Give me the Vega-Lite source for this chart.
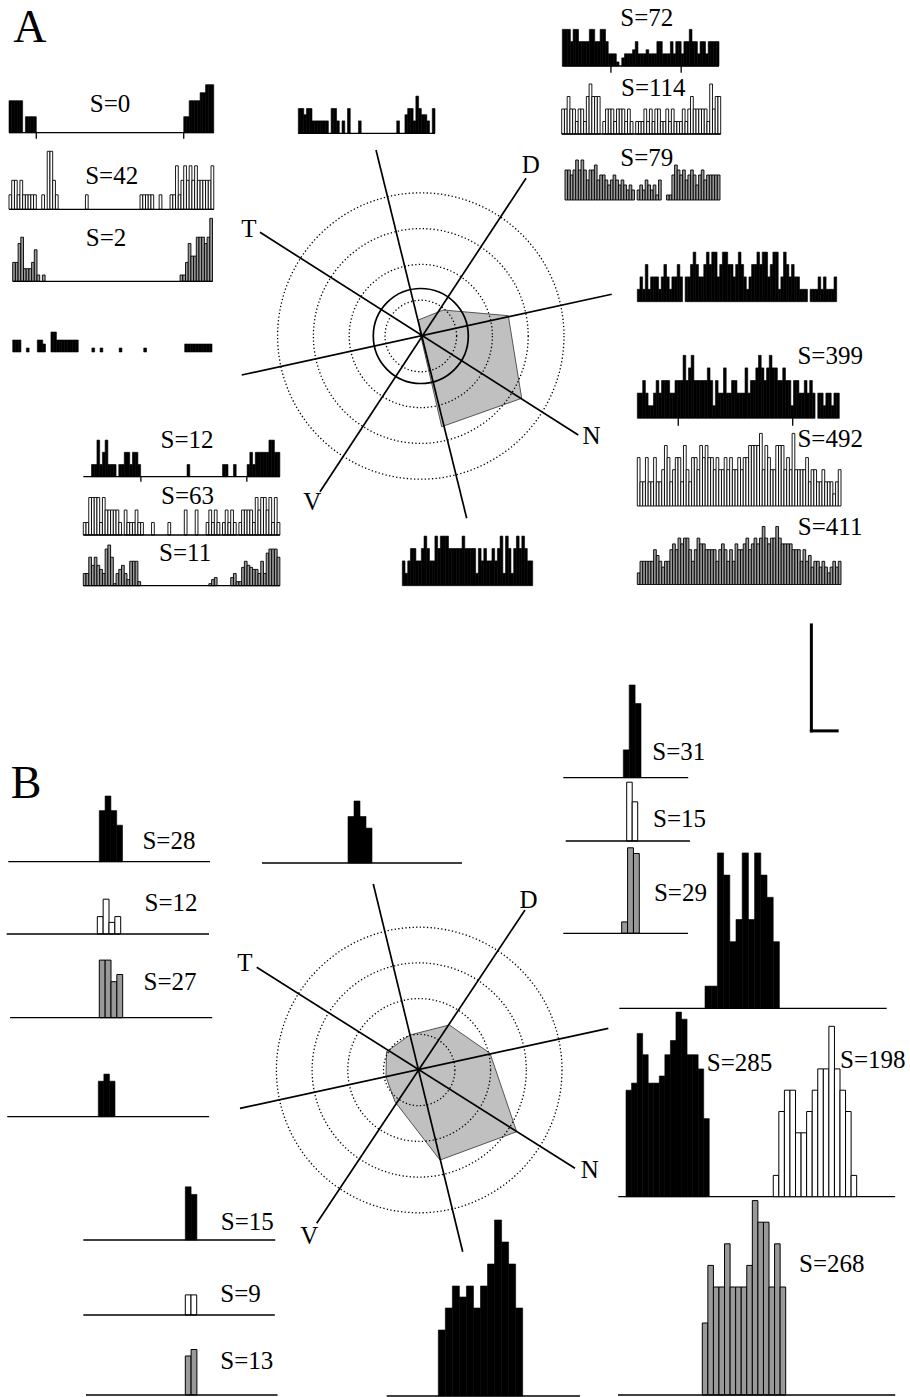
{
"$schema":"https://vega.github.io/schema/vega-lite/v6.json",
"width":910,"height":1397,"padding":0,"autosize":"none","background":"#ffffff",
"config":{"view":{"stroke":null},"axis":{"disable":true},"legend":{"disable":true},
"text":{"font":"Liberation Serif","fontSize":25,"align":"center","baseline":"middle","color":"#000"},
"rule":{"color":"#000","strokeWidth":1.3}},
"resolve":{"scale":{"x":"independent","y":"independent","size":"independent"}},
"layer":[
{"layer":[
{"data":{"values":[{"o":1,"px":-0.07,"py":0.447},{"o":2,"px":0.628,"py":0.726},{"o":3,"px":2.444,"py":0.567},{"o":4,"px":2.818,"py":-1.74},{"o":5,"px":0.584,"py":-2.534},{"o":6,"px":0,"py":0}]},
"mark":{"type":"line","interpolate":"linear-closed","fill":"#c0c0c0","stroke":"#555","strokeWidth":1},
"encoding":{"x":{"field":"px","type":"quantitative","scale":{"domain":[-6,6],"range":[206,635.6],"nice":false,"zero":false}},"y":{"field":"py","type":"quantitative","scale":{"domain":[-6,6],"range":[550.8,121.2],"nice":false,"zero":false}},"order":{"field":"o"}}},
{"data":{"values":[{"r":1},{"r":2},{"r":3},{"r":4}]},
"mark":{"type":"point","shape":"circle","filled":false,"color":"#000","strokeWidth":1.3,"strokeDash":[1.3,2.3],"opacity":1},
"encoding":{"x":{"datum":0,"type":"quantitative","scale":{"domain":[-6,6],"range":[206,635.6],"nice":false,"zero":false}},"y":{"datum":0,"type":"quantitative","scale":{"domain":[-6,6],"range":[550.8,121.2],"nice":false,"zero":false}},"size":{"field":"r","type":"quantitative","scale":{"type":"pow","exponent":2,"domain":[0,4],"range":[0,82025]},"legend":null}}},
{"data":{"values":[{"r":1.327}]},
"mark":{"type":"point","shape":"circle","filled":false,"color":"#000","strokeWidth":1.7,"opacity":1},
"encoding":{"x":{"datum":0,"type":"quantitative","scale":{"domain":[-6,6],"range":[206,635.6],"nice":false,"zero":false}},"y":{"datum":0,"type":"quantitative","scale":{"domain":[-6,6],"range":[550.8,121.2],"nice":false,"zero":false}},"size":{"field":"r","type":"quantitative","scale":{"type":"pow","exponent":2,"domain":[0,4],"range":[0,82025]},"legend":null}}},
{"data":{"values":[{"x1":-1.251,"y1":5.196,"x2":1.282,"y2":-5.092},{"x1":-4.492,"y1":2.897,"x2":4.399,"y2":-2.765},{"x1":2.939,"y1":4.405,"x2":-2.816,"y2":-4.349},{"x1":-5.003,"y1":-1.089,"x2":5.332,"y2":1.165}]},
"mark":{"type":"rule","strokeWidth":1.7},
"encoding":{"x":{"field":"x1","type":"quantitative","scale":{"domain":[-6,6],"range":[206,635.6],"nice":false,"zero":false}},"y":{"field":"y1","type":"quantitative","scale":{"domain":[-6,6],"range":[550.8,121.2],"nice":false,"zero":false}},"x2":{"field":"x2"},"y2":{"field":"y2"}}},
{"data":{"values":[{"lab":"T","lx":-4.8,"ly":2.98},{"lab":"D","lx":3.07,"ly":4.78},{"lab":"N","lx":4.77,"ly":-2.79},{"lab":"V","lx":-3.03,"ly":-4.65}]},
"mark":{"type":"text"},
"encoding":{"x":{"field":"lx","type":"quantitative","scale":{"domain":[-6,6],"range":[206,635.6],"nice":false,"zero":false}},"y":{"field":"ly","type":"quantitative","scale":{"domain":[-6,6],"range":[550.8,121.2],"nice":false,"zero":false}},"text":{"field":"lab"}}},
{"data":{"values":[{"lab":"A"}]},
"mark":{"type":"text","fontSize":46},
"encoding":{"x":{"datum":-10.92,"type":"quantitative","scale":{"domain":[-6,6],"range":[206,635.6],"nice":false,"zero":false}},"y":{"datum":8.6,"type":"quantitative","scale":{"domain":[-6,6],"range":[550.8,121.2],"nice":false,"zero":false}},"text":{"field":"lab"}}},
{"data":{"values":[{"x1":10.91,"y1":-8.07,"x2":10.91,"y2":-11.03},{"x1":10.91,"y1":-11.03,"x2":11.63,"y2":-11.03}]},
"mark":{"type":"rule","strokeWidth":3,"strokeCap":"square"},
"encoding":{"x":{"field":"x1","type":"quantitative","scale":{"domain":[-6,6],"range":[206,635.6],"nice":false,"zero":false}},"y":{"field":"y1","type":"quantitative","scale":{"domain":[-6,6],"range":[550.8,121.2],"nice":false,"zero":false}},"x2":{"field":"x2"},"y2":{"field":"y2"}}}
]},
{"layer":[
{"data":{"values":[{"o":1,"px":-0.916,"py":0.513},{"o":2,"px":-0.258,"py":0.98},{"o":3,"px":0.843,"py":1.261},{"o":4,"px":1.983,"py":0.468},{"o":5,"px":2.731,"py":-1.728},{"o":6,"px":0.583,"py":-2.521},{"o":7,"px":-0.678,"py":-0.888},{"o":8,"px":-0.93,"py":-0.188}]},
"mark":{"type":"line","interpolate":"linear-closed","fill":"#c0c0c0","stroke":"#555","strokeWidth":1},
"encoding":{"x":{"field":"px","type":"quantitative","scale":{"domain":[-6,6],"range":[205,633.4],"nice":false,"zero":false}},"y":{"field":"py","type":"quantitative","scale":{"domain":[-6,6],"range":[1284.2,855.8],"nice":false,"zero":false}},"order":{"field":"o"}}},
{"data":{"values":[{"r":1},{"r":2},{"r":3},{"r":4}]},
"mark":{"type":"point","shape":"circle","filled":false,"color":"#000","strokeWidth":1.3,"strokeDash":[1.3,2.3],"opacity":1},
"encoding":{"x":{"datum":0,"type":"quantitative","scale":{"domain":[-6,6],"range":[205,633.4],"nice":false,"zero":false}},"y":{"datum":0,"type":"quantitative","scale":{"domain":[-6,6],"range":[1284.2,855.8],"nice":false,"zero":false}},"size":{"field":"r","type":"quantitative","scale":{"type":"pow","exponent":2,"domain":[0,4],"range":[0,81568]},"legend":null}}},
{"data":{"values":[{"x1":-1.286,"y1":5.21,"x2":1.218,"y2":-5.09},{"x1":-4.552,"y1":2.877,"x2":4.364,"y2":-2.754},{"x1":2.964,"y1":4.482,"x2":-2.871,"y2":-4.294},{"x1":-5.02,"y1":-1.073,"x2":5.297,"y2":1.168}]},
"mark":{"type":"rule","strokeWidth":1.7},
"encoding":{"x":{"field":"x1","type":"quantitative","scale":{"domain":[-6,6],"range":[205,633.4],"nice":false,"zero":false}},"y":{"field":"y1","type":"quantitative","scale":{"domain":[-6,6],"range":[1284.2,855.8],"nice":false,"zero":false}},"x2":{"field":"x2"},"y2":{"field":"y2"}}},
{"data":{"values":[{"lab":"T","lx":-4.88,"ly":3.01},{"lab":"D","lx":3.06,"ly":4.76},{"lab":"N","lx":4.78,"ly":-2.8},{"lab":"V","lx":-3.08,"ly":-4.64}]},
"mark":{"type":"text"},
"encoding":{"x":{"field":"lx","type":"quantitative","scale":{"domain":[-6,6],"range":[205,633.4],"nice":false,"zero":false}},"y":{"field":"ly","type":"quantitative","scale":{"domain":[-6,6],"range":[1284.2,855.8],"nice":false,"zero":false}},"text":{"field":"lab"}}},
{"data":{"values":[{"lab":"B"}]},
"mark":{"type":"text","fontSize":46},
"encoding":{"x":{"datum":-11.01,"type":"quantitative","scale":{"domain":[-6,6],"range":[205,633.4],"nice":false,"zero":false}},"y":{"datum":8.01,"type":"quantitative","scale":{"domain":[-6,6],"range":[1284.2,855.8],"nice":false,"zero":false}},"text":{"field":"lab"}}}
]},

{"layer":[
{"data":{"values":[{"b":0,"n":4},{"b":1,"n":4},{"b":2,"n":4},{"b":3,"n":4},{"b":4,"n":4},{"b":6,"n":2},{"b":7,"n":2},{"b":8,"n":2},{"b":9,"n":2},{"b":64,"n":2},{"b":65,"n":2},{"b":66,"n":4},{"b":67,"n":4},{"b":68,"n":4},{"b":69,"n":4},{"b":70,"n":5},{"b":71,"n":5},{"b":72,"n":6},{"b":73,"n":6},{"b":74,"n":6}]},
"transform":[{"calculate":"datum.b+1","as":"e"}],"mark":{"type":"bar","color":"#000","stroke":"#000","strokeWidth":0.6},
"encoding":{"x":{"field":"b","type":"quantitative","scale":{"domain":[0,75],"range":[9,213.75],"nice":false,"zero":false}},"x2":{"field":"e"},"y":{"field":"n","type":"quantitative","scale":{"domain":[0,7],"range":[132.7,76.7],"nice":false,"zero":false}},"y2":{"datum":0}}},
{"data":{"values":[{}]},"mark":"rule","encoding":{"x":{"datum":0,"type":"quantitative","scale":{"domain":[0,75],"range":[9,213.75],"nice":false,"zero":false}},"x2":{"datum":75},"y":{"datum":0,"type":"quantitative","scale":{"domain":[0,7],"range":[132.7,76.7],"nice":false,"zero":false}}}},
{"data":{"values":[{"t":10},{"t":64}]},"mark":"rule","encoding":{"x":{"field":"t","type":"quantitative","scale":{"domain":[0,75],"range":[9,213.75],"nice":false,"zero":false}},"y":{"datum":0,"type":"quantitative","scale":{"domain":[0,7],"range":[132.7,76.7],"nice":false,"zero":false}},"y2":{"datum":-0.75}}},
{"data":{"values":[{"s":"S=0"}]},"mark":"text","encoding":{"x":{"datum":37,"type":"quantitative","scale":{"domain":[0,75],"range":[9,213.75],"nice":false,"zero":false}},"y":{"datum":3.6,"type":"quantitative","scale":{"domain":[0,7],"range":[132.7,76.7],"nice":false,"zero":false}},"text":{"field":"s"}}}
]},

{"layer":[
{"data":{"values":[{"b":0,"n":1},{"b":1,"n":2},{"b":2,"n":2},{"b":3,"n":1},{"b":4,"n":2},{"b":5,"n":1},{"b":6,"n":1},{"b":7,"n":1},{"b":8,"n":1},{"b":9,"n":1},{"b":12,"n":1},{"b":14,"n":4},{"b":15,"n":4},{"b":16,"n":2},{"b":17,"n":1},{"b":28,"n":1},{"b":48,"n":1},{"b":49,"n":1},{"b":50,"n":1},{"b":51,"n":1},{"b":52,"n":1},{"b":55,"n":1},{"b":59,"n":1},{"b":60,"n":1},{"b":61,"n":3},{"b":62,"n":1},{"b":63,"n":2},{"b":64,"n":3},{"b":65,"n":2},{"b":66,"n":3},{"b":67,"n":2},{"b":68,"n":3},{"b":69,"n":2},{"b":70,"n":2},{"b":71,"n":2},{"b":72,"n":2},{"b":73,"n":2},{"b":74,"n":3}]},
"transform":[{"calculate":"datum.b+1","as":"e"}],"mark":{"type":"bar","fill":"#fff","stroke":"#000","strokeWidth":0.9},
"encoding":{"x":{"field":"b","type":"quantitative","scale":{"domain":[0,75],"range":[9,213.75],"nice":false,"zero":false}},"x2":{"field":"e"},"y":{"field":"n","type":"quantitative","scale":{"domain":[0,4.5],"range":[209.3,144.05],"nice":false,"zero":false}},"y2":{"datum":0}}},
{"data":{"values":[{}]},"mark":"rule","encoding":{"x":{"datum":0,"type":"quantitative","scale":{"domain":[0,75],"range":[9,213.75],"nice":false,"zero":false}},"x2":{"datum":75},"y":{"datum":0,"type":"quantitative","scale":{"domain":[0,4.5],"range":[209.3,144.05],"nice":false,"zero":false}}}},
{"data":{"values":[{"s":"S=42"}]},"mark":"text","encoding":{"x":{"datum":37.6,"type":"quantitative","scale":{"domain":[0,75],"range":[9,213.75],"nice":false,"zero":false}},"y":{"datum":2.3,"type":"quantitative","scale":{"domain":[0,4.5],"range":[209.3,144.05],"nice":false,"zero":false}},"text":{"field":"s"}}}
]},

{"layer":[
{"data":{"values":[{"b":0,"n":3},{"b":1,"n":3},{"b":2,"n":6},{"b":3,"n":7},{"b":4,"n":2},{"b":5,"n":2},{"b":6,"n":2},{"b":7,"n":3},{"b":8,"n":5},{"b":9,"n":1},{"b":11,"n":1},{"b":62,"n":1},{"b":63,"n":1},{"b":64,"n":3},{"b":65,"n":6},{"b":66,"n":4},{"b":67,"n":4},{"b":68,"n":7},{"b":69,"n":7},{"b":70,"n":7},{"b":71,"n":6},{"b":72,"n":7},{"b":73,"n":10}]},
"transform":[{"calculate":"datum.b+1","as":"e"}],"mark":{"type":"bar","fill":"#999","stroke":"#000","strokeWidth":0.9},
"encoding":{"x":{"field":"b","type":"quantitative","scale":{"domain":[0,74],"range":[12.7,212.5],"nice":false,"zero":false}},"x2":{"field":"e"},"y":{"field":"n","type":"quantitative","scale":{"domain":[0,11],"range":[281.3,212],"nice":false,"zero":false}},"y2":{"datum":0}}},
{"data":{"values":[{}]},"mark":"rule","encoding":{"x":{"datum":0,"type":"quantitative","scale":{"domain":[0,74],"range":[12.7,212.5],"nice":false,"zero":false}},"x2":{"datum":74},"y":{"datum":0,"type":"quantitative","scale":{"domain":[0,11],"range":[281.3,212],"nice":false,"zero":false}}}},
{"data":{"values":[{"s":"S=2"}]},"mark":"text","encoding":{"x":{"datum":34.6,"type":"quantitative","scale":{"domain":[0,74],"range":[12.7,212.5],"nice":false,"zero":false}},"y":{"datum":6.8,"type":"quantitative","scale":{"domain":[0,11],"range":[281.3,212],"nice":false,"zero":false}},"text":{"field":"s"}}}
]},

{"layer":[
{"data":{"values":[{"b":1,"n":3},{"b":2,"n":3},{"b":3,"n":3},{"b":6,"n":1},{"b":10,"n":3},{"b":11,"n":3},{"b":12,"n":2},{"b":15,"n":5},{"b":16,"n":5},{"b":17,"n":3},{"b":18,"n":3},{"b":19,"n":3},{"b":20,"n":3},{"b":21,"n":3},{"b":22,"n":3},{"b":23,"n":3},{"b":24,"n":3},{"b":30,"n":1},{"b":33,"n":1},{"b":40,"n":1},{"b":49,"n":1},{"b":64,"n":2},{"b":65,"n":2},{"b":66,"n":2},{"b":67,"n":2},{"b":68,"n":2},{"b":69,"n":2},{"b":70,"n":2},{"b":71,"n":2},{"b":72,"n":2},{"b":73,"n":2}]},
"transform":[{"calculate":"datum.b+1","as":"e"}],"mark":{"type":"bar","color":"#000","stroke":"#000","strokeWidth":0.6},
"encoding":{"x":{"field":"b","type":"quantitative","scale":{"domain":[0,74],"range":[10,212],"nice":false,"zero":false}},"x2":{"field":"e"},"y":{"field":"n","type":"quantitative","scale":{"domain":[0,5],"range":[352,332],"nice":false,"zero":false}},"y2":{"datum":0}}}
]},

{"layer":[
{"data":{"values":[{"b":0,"n":4},{"b":1,"n":4},{"b":2,"n":3},{"b":3,"n":4},{"b":4,"n":4},{"b":5,"n":2},{"b":6,"n":2},{"b":7,"n":2},{"b":8,"n":2},{"b":9,"n":2},{"b":10,"n":2},{"b":12,"n":4},{"b":13,"n":4},{"b":14,"n":2},{"b":16,"n":2},{"b":18,"n":4},{"b":22,"n":2},{"b":36,"n":2},{"b":39,"n":3},{"b":40,"n":4},{"b":41,"n":4},{"b":42,"n":2},{"b":43,"n":6},{"b":44,"n":4},{"b":45,"n":3},{"b":46,"n":3},{"b":47,"n":2},{"b":49,"n":4}]},
"transform":[{"calculate":"datum.b+1","as":"e"}],"mark":{"type":"bar","color":"#000","stroke":"#000","strokeWidth":0.6},
"encoding":{"x":{"field":"b","type":"quantitative","scale":{"domain":[0,50],"range":[298.3,435],"nice":false,"zero":false}},"x2":{"field":"e"},"y":{"field":"n","type":"quantitative","scale":{"domain":[0,7],"range":[133.3,89.9],"nice":false,"zero":false}},"y2":{"datum":0}}},
{"data":{"values":[{}]},"mark":"rule","encoding":{"x":{"datum":0,"type":"quantitative","scale":{"domain":[0,50],"range":[298.3,435],"nice":false,"zero":false}},"x2":{"datum":50},"y":{"datum":0,"type":"quantitative","scale":{"domain":[0,7],"range":[133.3,89.9],"nice":false,"zero":false}}}}
]},

{"layer":[
{"data":{"values":[{"b":0,"n":9},{"b":1,"n":9},{"b":2,"n":9},{"b":3,"n":6},{"b":4,"n":9},{"b":5,"n":9},{"b":6,"n":6},{"b":7,"n":6},{"b":8,"n":6},{"b":9,"n":6},{"b":10,"n":9},{"b":11,"n":9},{"b":12,"n":6},{"b":13,"n":6},{"b":14,"n":9},{"b":15,"n":9},{"b":16,"n":6},{"b":17,"n":3},{"b":18,"n":3},{"b":19,"n":3},{"b":20,"n":1},{"b":22,"n":2},{"b":23,"n":3},{"b":24,"n":3},{"b":25,"n":3},{"b":26,"n":4},{"b":27,"n":6},{"b":28,"n":3},{"b":29,"n":3},{"b":30,"n":3},{"b":31,"n":4},{"b":32,"n":3},{"b":33,"n":3},{"b":34,"n":3},{"b":35,"n":6},{"b":36,"n":6},{"b":37,"n":3},{"b":38,"n":3},{"b":39,"n":3},{"b":40,"n":6},{"b":41,"n":3},{"b":42,"n":6},{"b":43,"n":6},{"b":44,"n":3},{"b":45,"n":6},{"b":46,"n":6},{"b":47,"n":9},{"b":48,"n":6},{"b":49,"n":6},{"b":50,"n":3},{"b":51,"n":6},{"b":52,"n":6},{"b":53,"n":3},{"b":54,"n":6},{"b":55,"n":6},{"b":56,"n":6},{"b":57,"n":6}]},
"transform":[{"calculate":"datum.b+1","as":"e"}],"mark":{"type":"bar","color":"#000","stroke":"#000","strokeWidth":0.6},
"encoding":{"x":{"field":"b","type":"quantitative","scale":{"domain":[0,58],"range":[562.3,719],"nice":false,"zero":false}},"x2":{"field":"e"},"y":{"field":"n","type":"quantitative","scale":{"domain":[0,10],"range":[66,25.3],"nice":false,"zero":false}},"y2":{"datum":0}}},
{"data":{"values":[{}]},"mark":"rule","encoding":{"x":{"datum":0,"type":"quantitative","scale":{"domain":[0,58],"range":[562.3,719],"nice":false,"zero":false}},"x2":{"datum":58},"y":{"datum":0,"type":"quantitative","scale":{"domain":[0,10],"range":[66,25.3],"nice":false,"zero":false}}}},
{"data":{"values":[{"t":18},{"t":44}]},"mark":"rule","encoding":{"x":{"field":"t","type":"quantitative","scale":{"domain":[0,58],"range":[562.3,719],"nice":false,"zero":false}},"y":{"datum":0,"type":"quantitative","scale":{"domain":[0,10],"range":[66,25.3],"nice":false,"zero":false}},"y2":{"datum":-1.65}}},
{"data":{"values":[{"s":"S=72"}]},"mark":"text","encoding":{"x":{"datum":31.3,"type":"quantitative","scale":{"domain":[0,58],"range":[562.3,719],"nice":false,"zero":false}},"y":{"datum":11.9,"type":"quantitative","scale":{"domain":[0,10],"range":[66,25.3],"nice":false,"zero":false}},"text":{"field":"s"}}}
]},

{"layer":[
{"data":{"values":[{"b":0,"n":2},{"b":1,"n":2},{"b":2,"n":3},{"b":3,"n":2},{"b":4,"n":2},{"b":5,"n":1},{"b":6,"n":2},{"b":7,"n":2},{"b":8,"n":1},{"b":9,"n":3},{"b":10,"n":4},{"b":11,"n":3},{"b":12,"n":3},{"b":13,"n":3},{"b":15,"n":1},{"b":16,"n":2},{"b":17,"n":2},{"b":18,"n":2},{"b":19,"n":1},{"b":20,"n":2},{"b":21,"n":2},{"b":22,"n":2},{"b":23,"n":1},{"b":24,"n":2},{"b":25,"n":1},{"b":27,"n":1},{"b":28,"n":1},{"b":29,"n":1},{"b":30,"n":2},{"b":31,"n":1},{"b":32,"n":2},{"b":33,"n":1},{"b":34,"n":2},{"b":35,"n":2},{"b":36,"n":1},{"b":37,"n":1},{"b":38,"n":2},{"b":39,"n":1},{"b":40,"n":2},{"b":41,"n":1},{"b":42,"n":1},{"b":43,"n":1},{"b":44,"n":2},{"b":45,"n":1},{"b":46,"n":2},{"b":47,"n":3},{"b":48,"n":2},{"b":49,"n":2},{"b":50,"n":2},{"b":51,"n":2},{"b":52,"n":2},{"b":53,"n":1},{"b":54,"n":4},{"b":55,"n":2},{"b":56,"n":3},{"b":57,"n":3}]},
"transform":[{"calculate":"datum.b+1","as":"e"}],"mark":{"type":"bar","fill":"#fff","stroke":"#000","strokeWidth":0.9},
"encoding":{"x":{"field":"b","type":"quantitative","scale":{"domain":[0,58],"range":[561.7,720.7],"nice":false,"zero":false}},"x2":{"field":"e"},"y":{"field":"n","type":"quantitative","scale":{"domain":[0,4.5],"range":[134,77.75],"nice":false,"zero":false}},"y2":{"datum":0}}},
{"data":{"values":[{}]},"mark":"rule","encoding":{"x":{"datum":0,"type":"quantitative","scale":{"domain":[0,58],"range":[561.7,720.7],"nice":false,"zero":false}},"x2":{"datum":58},"y":{"datum":0,"type":"quantitative","scale":{"domain":[0,4.5],"range":[134,77.75],"nice":false,"zero":false}}}},
{"data":{"values":[{"s":"S=114"}]},"mark":"text","encoding":{"x":{"datum":33.4,"type":"quantitative","scale":{"domain":[0,58],"range":[561.7,720.7],"nice":false,"zero":false}},"y":{"datum":3.72,"type":"quantitative","scale":{"domain":[0,4.5],"range":[134,77.75],"nice":false,"zero":false}},"text":{"field":"s"}}}
]},

{"layer":[
{"data":{"values":[{"b":0,"n":6},{"b":1,"n":6},{"b":2,"n":5},{"b":3,"n":6},{"b":4,"n":8},{"b":5,"n":6},{"b":6,"n":8},{"b":7,"n":6},{"b":8,"n":4},{"b":9,"n":6},{"b":10,"n":6},{"b":11,"n":7},{"b":12,"n":4},{"b":13,"n":5},{"b":14,"n":5},{"b":15,"n":4},{"b":16,"n":3},{"b":17,"n":4},{"b":18,"n":5},{"b":19,"n":4},{"b":20,"n":3},{"b":21,"n":4},{"b":22,"n":3},{"b":23,"n":2},{"b":24,"n":3},{"b":25,"n":2},{"b":27,"n":2},{"b":28,"n":3},{"b":29,"n":2},{"b":30,"n":4},{"b":31,"n":3},{"b":32,"n":2},{"b":33,"n":3},{"b":34,"n":1},{"b":35,"n":4},{"b":38,"n":1},{"b":39,"n":1},{"b":40,"n":5},{"b":41,"n":7},{"b":42,"n":6},{"b":43,"n":5},{"b":44,"n":6},{"b":45,"n":4},{"b":46,"n":5},{"b":47,"n":6},{"b":48,"n":5},{"b":49,"n":3},{"b":50,"n":5},{"b":51,"n":6},{"b":52,"n":4},{"b":53,"n":5},{"b":54,"n":5},{"b":55,"n":5},{"b":56,"n":5},{"b":57,"n":5}]},
"transform":[{"calculate":"datum.b+1","as":"e"}],"mark":{"type":"bar","fill":"#999","stroke":"#000","strokeWidth":0.9},
"encoding":{"x":{"field":"b","type":"quantitative","scale":{"domain":[0,58],"range":[565,720],"nice":false,"zero":false}},"x2":{"field":"e"},"y":{"field":"n","type":"quantitative","scale":{"domain":[0,9],"range":[200,155],"nice":false,"zero":false}},"y2":{"datum":0}}},
{"data":{"values":[{"s":"S=79"}]},"mark":"text","encoding":{"x":{"datum":30.6,"type":"quantitative","scale":{"domain":[0,58],"range":[565,720],"nice":false,"zero":false}},"y":{"datum":8.4,"type":"quantitative","scale":{"domain":[0,9],"range":[200,155],"nice":false,"zero":false}},"text":{"field":"s"}}}
]},

{"layer":[
{"data":{"values":[{"b":0,"n":1},{"b":1,"n":2},{"b":2,"n":1},{"b":3,"n":3},{"b":4,"n":1},{"b":5,"n":2},{"b":6,"n":2},{"b":7,"n":2},{"b":8,"n":1},{"b":9,"n":2},{"b":10,"n":3},{"b":11,"n":2},{"b":12,"n":1},{"b":13,"n":2},{"b":14,"n":2},{"b":15,"n":3},{"b":16,"n":2},{"b":18,"n":2},{"b":19,"n":2},{"b":20,"n":3},{"b":21,"n":4},{"b":22,"n":3},{"b":23,"n":2},{"b":24,"n":2},{"b":25,"n":3},{"b":26,"n":4},{"b":27,"n":3},{"b":28,"n":4},{"b":29,"n":4},{"b":30,"n":2},{"b":31,"n":3},{"b":32,"n":4},{"b":33,"n":4},{"b":34,"n":3},{"b":35,"n":3},{"b":36,"n":2},{"b":37,"n":3},{"b":38,"n":4},{"b":39,"n":3},{"b":40,"n":2},{"b":41,"n":1},{"b":42,"n":2},{"b":43,"n":3},{"b":44,"n":3},{"b":45,"n":4},{"b":46,"n":3},{"b":47,"n":4},{"b":48,"n":4},{"b":49,"n":2},{"b":50,"n":3},{"b":51,"n":4},{"b":52,"n":4},{"b":53,"n":1},{"b":54,"n":2},{"b":55,"n":4},{"b":56,"n":3},{"b":57,"n":2},{"b":58,"n":3},{"b":59,"n":2},{"b":60,"n":2},{"b":61,"n":1},{"b":62,"n":1},{"b":63,"n":1},{"b":65,"n":1},{"b":66,"n":1},{"b":67,"n":1},{"b":68,"n":2},{"b":69,"n":1},{"b":70,"n":2},{"b":71,"n":1},{"b":72,"n":1},{"b":73,"n":1},{"b":74,"n":2}]},
"transform":[{"calculate":"datum.b+1","as":"e"}],"mark":{"type":"bar","color":"#000","stroke":"#000","strokeWidth":0.6},
"encoding":{"x":{"field":"b","type":"quantitative","scale":{"domain":[0,75],"range":[637.3,836.7],"nice":false,"zero":false}},"x2":{"field":"e"},"y":{"field":"n","type":"quantitative","scale":{"domain":[0,4.5],"range":[301.7,245.9],"nice":false,"zero":false}},"y2":{"datum":0}}}
]},

{"layer":[
{"data":{"values":[{"b":0,"n":2},{"b":1,"n":2},{"b":2,"n":3},{"b":3,"n":2},{"b":4,"n":1},{"b":5,"n":1},{"b":6,"n":2},{"b":7,"n":3},{"b":8,"n":2},{"b":9,"n":3},{"b":10,"n":3},{"b":11,"n":3},{"b":12,"n":2},{"b":13,"n":2},{"b":14,"n":3},{"b":15,"n":3},{"b":16,"n":3},{"b":17,"n":5},{"b":18,"n":3},{"b":19,"n":4},{"b":20,"n":5},{"b":21,"n":3},{"b":22,"n":3},{"b":23,"n":3},{"b":24,"n":3},{"b":25,"n":3},{"b":26,"n":4},{"b":27,"n":3},{"b":28,"n":1},{"b":29,"n":3},{"b":30,"n":2},{"b":31,"n":2},{"b":32,"n":4},{"b":33,"n":2},{"b":34,"n":2},{"b":35,"n":3},{"b":36,"n":3},{"b":37,"n":2},{"b":38,"n":2},{"b":39,"n":2},{"b":40,"n":4},{"b":41,"n":2},{"b":42,"n":3},{"b":43,"n":3},{"b":44,"n":4},{"b":45,"n":5},{"b":46,"n":4},{"b":47,"n":3},{"b":48,"n":4},{"b":49,"n":5},{"b":50,"n":4},{"b":51,"n":4},{"b":52,"n":3},{"b":53,"n":3},{"b":54,"n":4},{"b":55,"n":3},{"b":56,"n":3},{"b":57,"n":1},{"b":58,"n":3},{"b":59,"n":3},{"b":60,"n":2},{"b":61,"n":2},{"b":62,"n":3},{"b":63,"n":2},{"b":64,"n":3},{"b":65,"n":2},{"b":67,"n":2},{"b":68,"n":2},{"b":69,"n":1},{"b":70,"n":2},{"b":71,"n":2},{"b":72,"n":1},{"b":73,"n":2},{"b":74,"n":2}]},
"transform":[{"calculate":"datum.b+1","as":"e"}],"mark":{"type":"bar","color":"#000","stroke":"#000","strokeWidth":0.6},
"encoding":{"x":{"field":"b","type":"quantitative","scale":{"domain":[0,75],"range":[637.3,839.3],"nice":false,"zero":false}},"x2":{"field":"e"},"y":{"field":"n","type":"quantitative","scale":{"domain":[0,5.5],"range":[418.3,349],"nice":false,"zero":false}},"y2":{"datum":0}}},
{"data":{"values":[{"t":15.2},{"t":57.7}]},"mark":"rule","encoding":{"x":{"field":"t","type":"quantitative","scale":{"domain":[0,75],"range":[637.3,839.3],"nice":false,"zero":false}},"y":{"datum":0,"type":"quantitative","scale":{"domain":[0,5.5],"range":[418.3,349],"nice":false,"zero":false}},"y2":{"datum":-0.59}}},
{"data":{"values":[{"s":"S=399"}]},"mark":"text","encoding":{"x":{"datum":71.6,"type":"quantitative","scale":{"domain":[0,75],"range":[637.3,839.3],"nice":false,"zero":false}},"y":{"datum":4.96,"type":"quantitative","scale":{"domain":[0,5.5],"range":[418.3,349],"nice":false,"zero":false}},"text":{"field":"s"}}}
]},

{"layer":[
{"data":{"values":[{"b":0,"n":4},{"b":1,"n":2},{"b":2,"n":2},{"b":3,"n":4},{"b":4,"n":2},{"b":5,"n":2},{"b":6,"n":4},{"b":7,"n":2},{"b":8,"n":2},{"b":9,"n":3},{"b":10,"n":5},{"b":11,"n":4},{"b":12,"n":2},{"b":13,"n":3},{"b":14,"n":4},{"b":15,"n":4},{"b":16,"n":2},{"b":17,"n":5},{"b":18,"n":3},{"b":19,"n":2},{"b":20,"n":4},{"b":21,"n":4},{"b":22,"n":3},{"b":23,"n":5},{"b":24,"n":4},{"b":25,"n":5},{"b":26,"n":4},{"b":27,"n":4},{"b":28,"n":3},{"b":29,"n":4},{"b":30,"n":3},{"b":31,"n":3},{"b":32,"n":4},{"b":33,"n":3},{"b":34,"n":4},{"b":35,"n":3},{"b":36,"n":3},{"b":37,"n":4},{"b":38,"n":3},{"b":39,"n":4},{"b":40,"n":4},{"b":41,"n":5},{"b":42,"n":5},{"b":43,"n":5},{"b":44,"n":5},{"b":45,"n":6},{"b":46,"n":3},{"b":47,"n":5},{"b":48,"n":4},{"b":49,"n":3},{"b":50,"n":3},{"b":51,"n":5},{"b":52,"n":5},{"b":53,"n":5},{"b":54,"n":3},{"b":55,"n":4},{"b":56,"n":3},{"b":57,"n":6},{"b":58,"n":3},{"b":59,"n":3},{"b":60,"n":3},{"b":61,"n":3},{"b":62,"n":4},{"b":63,"n":2},{"b":64,"n":3},{"b":65,"n":3},{"b":66,"n":2},{"b":67,"n":2},{"b":68,"n":3},{"b":69,"n":2},{"b":70,"n":2},{"b":71,"n":2},{"b":72,"n":1},{"b":73,"n":2},{"b":74,"n":3}]},
"transform":[{"calculate":"datum.b+1","as":"e"}],"mark":{"type":"bar","fill":"#fff","stroke":"#000","strokeWidth":0.9},
"encoding":{"x":{"field":"b","type":"quantitative","scale":{"domain":[0,75],"range":[637.3,841],"nice":false,"zero":false}},"x2":{"field":"e"},"y":{"field":"n","type":"quantitative","scale":{"domain":[0,6.5],"range":[506,427.35],"nice":false,"zero":false}},"y2":{"datum":0}}},
{"data":{"values":[{"s":"S=492"}]},"mark":"text","encoding":{"x":{"datum":71,"type":"quantitative","scale":{"domain":[0,75],"range":[637.3,841],"nice":false,"zero":false}},"y":{"datum":5.54,"type":"quantitative","scale":{"domain":[0,6.5],"range":[506,427.35],"nice":false,"zero":false}},"text":{"field":"s"}}}
]},

{"layer":[
{"data":{"values":[{"b":0,"n":2},{"b":1,"n":4},{"b":2,"n":4},{"b":3,"n":4},{"b":4,"n":4},{"b":5,"n":4},{"b":6,"n":6},{"b":7,"n":5},{"b":8,"n":4},{"b":9,"n":3},{"b":10,"n":4},{"b":11,"n":4},{"b":12,"n":6},{"b":13,"n":7},{"b":14,"n":6},{"b":15,"n":8},{"b":16,"n":7},{"b":17,"n":8},{"b":18,"n":8},{"b":19,"n":6},{"b":20,"n":4},{"b":21,"n":6},{"b":22,"n":8},{"b":23,"n":7},{"b":24,"n":7},{"b":25,"n":6},{"b":26,"n":6},{"b":27,"n":6},{"b":28,"n":6},{"b":29,"n":4},{"b":30,"n":6},{"b":31,"n":7},{"b":32,"n":6},{"b":33,"n":4},{"b":34,"n":6},{"b":35,"n":4},{"b":36,"n":7},{"b":37,"n":6},{"b":38,"n":6},{"b":39,"n":7},{"b":40,"n":8},{"b":41,"n":6},{"b":42,"n":7},{"b":43,"n":8},{"b":44,"n":7},{"b":45,"n":8},{"b":46,"n":10},{"b":47,"n":8},{"b":48,"n":7},{"b":49,"n":8},{"b":50,"n":8},{"b":51,"n":10},{"b":52,"n":8},{"b":53,"n":7},{"b":54,"n":7},{"b":55,"n":7},{"b":56,"n":7},{"b":57,"n":6},{"b":58,"n":6},{"b":59,"n":6},{"b":60,"n":4},{"b":61,"n":6},{"b":62,"n":4},{"b":63,"n":5},{"b":64,"n":3},{"b":65,"n":4},{"b":66,"n":4},{"b":67,"n":3},{"b":68,"n":4},{"b":69,"n":3},{"b":70,"n":2},{"b":71,"n":3},{"b":72,"n":4},{"b":73,"n":3},{"b":74,"n":4}]},
"transform":[{"calculate":"datum.b+1","as":"e"}],"mark":{"type":"bar","fill":"#999","stroke":"#000","strokeWidth":0.9},
"encoding":{"x":{"field":"b","type":"quantitative","scale":{"domain":[0,75],"range":[637.3,841],"nice":false,"zero":false}},"x2":{"field":"e"},"y":{"field":"n","type":"quantitative","scale":{"domain":[0,11],"range":[584.5,520.7],"nice":false,"zero":false}},"y2":{"datum":0}}},
{"data":{"values":[{"s":"S=411"}]},"mark":"text","encoding":{"x":{"datum":71,"type":"quantitative","scale":{"domain":[0,75],"range":[637.3,841],"nice":false,"zero":false}},"y":{"datum":9.83,"type":"quantitative","scale":{"domain":[0,11],"range":[584.5,520.7],"nice":false,"zero":false}},"text":{"field":"s"}}}
]},

{"layer":[
{"data":{"values":[{"b":3,"n":1},{"b":4,"n":1},{"b":5,"n":3},{"b":6,"n":1},{"b":7,"n":2},{"b":8,"n":3},{"b":9,"n":1},{"b":10,"n":1},{"b":11,"n":1},{"b":13,"n":1},{"b":14,"n":1},{"b":15,"n":2},{"b":16,"n":2},{"b":17,"n":1},{"b":18,"n":2},{"b":19,"n":2},{"b":20,"n":1},{"b":38,"n":1},{"b":51,"n":1},{"b":52,"n":1},{"b":55,"n":1},{"b":60,"n":1},{"b":61,"n":2},{"b":62,"n":1},{"b":63,"n":2},{"b":64,"n":2},{"b":65,"n":2},{"b":66,"n":2},{"b":67,"n":2},{"b":68,"n":3},{"b":69,"n":3},{"b":70,"n":2},{"b":71,"n":2}]},
"transform":[{"calculate":"datum.b+1","as":"e"}],"mark":{"type":"bar","color":"#000","stroke":"#000","strokeWidth":0.6},
"encoding":{"x":{"field":"b","type":"quantitative","scale":{"domain":[0,72],"range":[83.3,279.86],"nice":false,"zero":false}},"x2":{"field":"e"},"y":{"field":"n","type":"quantitative","scale":{"domain":[0,3.5],"range":[476.7,434],"nice":false,"zero":false}},"y2":{"datum":0}}},
{"data":{"values":[{}]},"mark":"rule","encoding":{"x":{"datum":0,"type":"quantitative","scale":{"domain":[0,72],"range":[83.3,279.86],"nice":false,"zero":false}},"x2":{"datum":72},"y":{"datum":0,"type":"quantitative","scale":{"domain":[0,3.5],"range":[476.7,434],"nice":false,"zero":false}}}},
{"data":{"values":[{"t":21.1},{"t":59.9}]},"mark":"rule","encoding":{"x":{"field":"t","type":"quantitative","scale":{"domain":[0,72],"range":[83.3,279.86],"nice":false,"zero":false}},"y":{"datum":0,"type":"quantitative","scale":{"domain":[0,3.5],"range":[476.7,434],"nice":false,"zero":false}},"y2":{"datum":-0.41}}},
{"data":{"values":[{"s":"S=12"}]},"mark":"text","encoding":{"x":{"datum":38,"type":"quantitative","scale":{"domain":[0,72],"range":[83.3,279.86],"nice":false,"zero":false}},"y":{"datum":3.0,"type":"quantitative","scale":{"domain":[0,3.5],"range":[476.7,434],"nice":false,"zero":false}},"text":{"field":"s"}}}
]},

{"layer":[
{"data":{"values":[{"b":0,"n":1},{"b":1,"n":1},{"b":2,"n":3},{"b":3,"n":3},{"b":4,"n":3},{"b":5,"n":3},{"b":6,"n":1},{"b":7,"n":3},{"b":8,"n":2},{"b":9,"n":2},{"b":10,"n":2},{"b":11,"n":2},{"b":12,"n":2},{"b":13,"n":1},{"b":15,"n":2},{"b":16,"n":1},{"b":17,"n":1},{"b":18,"n":1},{"b":19,"n":2},{"b":20,"n":1},{"b":21,"n":1},{"b":25,"n":1},{"b":31,"n":1},{"b":37,"n":2},{"b":41,"n":2},{"b":45,"n":1},{"b":46,"n":2},{"b":47,"n":1},{"b":48,"n":2},{"b":49,"n":1},{"b":51,"n":1},{"b":52,"n":2},{"b":53,"n":1},{"b":54,"n":2},{"b":55,"n":1},{"b":57,"n":1},{"b":58,"n":2},{"b":59,"n":2},{"b":60,"n":2},{"b":61,"n":2},{"b":62,"n":1},{"b":63,"n":3},{"b":64,"n":2},{"b":65,"n":3},{"b":66,"n":3},{"b":67,"n":2},{"b":68,"n":3},{"b":69,"n":1},{"b":70,"n":3},{"b":71,"n":1}]},
"transform":[{"calculate":"datum.b+1","as":"e"}],"mark":{"type":"bar","fill":"#fff","stroke":"#000","strokeWidth":0.9},
"encoding":{"x":{"field":"b","type":"quantitative","scale":{"domain":[0,72],"range":[83.3,279.86],"nice":false,"zero":false}},"x2":{"field":"e"},"y":{"field":"n","type":"quantitative","scale":{"domain":[0,3.5],"range":[535,491.25],"nice":false,"zero":false}},"y2":{"datum":0}}},
{"data":{"values":[{}]},"mark":"rule","encoding":{"x":{"datum":0,"type":"quantitative","scale":{"domain":[0,72],"range":[83.3,279.86],"nice":false,"zero":false}},"x2":{"datum":72},"y":{"datum":0,"type":"quantitative","scale":{"domain":[0,3.5],"range":[535,491.25],"nice":false,"zero":false}}}},
{"data":{"values":[{"s":"S=63"}]},"mark":"text","encoding":{"x":{"datum":38.2,"type":"quantitative","scale":{"domain":[0,72],"range":[83.3,279.86],"nice":false,"zero":false}},"y":{"datum":3.1,"type":"quantitative","scale":{"domain":[0,3.5],"range":[535,491.25],"nice":false,"zero":false}},"text":{"field":"s"}}}
]},

{"layer":[
{"data":{"values":[{"b":0,"n":3},{"b":1,"n":3},{"b":2,"n":7},{"b":3,"n":5},{"b":4,"n":7},{"b":5,"n":5},{"b":6,"n":4},{"b":7,"n":3},{"b":8,"n":9},{"b":9,"n":10},{"b":10,"n":7},{"b":11,"n":0.5},{"b":12,"n":3},{"b":13,"n":4},{"b":14,"n":5},{"b":15,"n":3},{"b":16,"n":1.5},{"b":17,"n":6},{"b":18,"n":6},{"b":19,"n":6},{"b":20,"n":1},{"b":46,"n":0.5},{"b":47,"n":1.5},{"b":48,"n":2},{"b":54,"n":2},{"b":55,"n":3},{"b":56,"n":1},{"b":57,"n":1},{"b":58,"n":4.5},{"b":59,"n":6},{"b":60,"n":5},{"b":61,"n":4.5},{"b":62,"n":4},{"b":63,"n":4},{"b":64,"n":3},{"b":65,"n":6},{"b":66,"n":3},{"b":67,"n":8},{"b":68,"n":9},{"b":69,"n":9},{"b":70,"n":9},{"b":71,"n":7}]},
"transform":[{"calculate":"datum.b+1","as":"e"}],"mark":{"type":"bar","fill":"#999","stroke":"#000","strokeWidth":0.9},
"encoding":{"x":{"field":"b","type":"quantitative","scale":{"domain":[0,72],"range":[83.3,279.86],"nice":false,"zero":false}},"x2":{"field":"e"},"y":{"field":"n","type":"quantitative","scale":{"domain":[0,11],"range":[585.7,540.93],"nice":false,"zero":false}},"y2":{"datum":0}}},
{"data":{"values":[{}]},"mark":"rule","encoding":{"x":{"datum":0,"type":"quantitative","scale":{"domain":[0,72],"range":[83.3,279.86],"nice":false,"zero":false}},"x2":{"datum":72},"y":{"datum":0,"type":"quantitative","scale":{"domain":[0,11],"range":[585.7,540.93],"nice":false,"zero":false}}}},
{"data":{"values":[{"s":"S=11"}]},"mark":"text","encoding":{"x":{"datum":37.3,"type":"quantitative","scale":{"domain":[0,72],"range":[83.3,279.86],"nice":false,"zero":false}},"y":{"datum":8.0,"type":"quantitative","scale":{"domain":[0,11],"range":[585.7,540.93],"nice":false,"zero":false}},"text":{"field":"s"}}}
]},

{"layer":[
{"data":{"values":[{"b":0,"n":2},{"b":1,"n":1},{"b":2,"n":2},{"b":3,"n":3},{"b":4,"n":3},{"b":5,"n":2},{"b":6,"n":2},{"b":7,"n":3},{"b":8,"n":4},{"b":9,"n":3},{"b":10,"n":2},{"b":11,"n":2},{"b":12,"n":4},{"b":13,"n":3},{"b":14,"n":4},{"b":15,"n":4},{"b":16,"n":4},{"b":17,"n":3},{"b":18,"n":3},{"b":19,"n":3},{"b":20,"n":3},{"b":21,"n":3},{"b":22,"n":4},{"b":23,"n":3},{"b":24,"n":3},{"b":25,"n":3},{"b":26,"n":3},{"b":27,"n":1},{"b":28,"n":3},{"b":29,"n":2},{"b":30,"n":3},{"b":31,"n":2},{"b":32,"n":2},{"b":33,"n":3},{"b":34,"n":2},{"b":35,"n":3},{"b":36,"n":4},{"b":37,"n":1},{"b":38,"n":4},{"b":39,"n":3},{"b":40,"n":1},{"b":41,"n":3},{"b":42,"n":4},{"b":43,"n":3},{"b":44,"n":4},{"b":45,"n":3},{"b":46,"n":2},{"b":47,"n":2}]},
"transform":[{"calculate":"datum.b+1","as":"e"}],"mark":{"type":"bar","color":"#000","stroke":"#000","strokeWidth":0.6},
"encoding":{"x":{"field":"b","type":"quantitative","scale":{"domain":[0,48],"range":[402.3,532.7],"nice":false,"zero":false}},"x2":{"field":"e"},"y":{"field":"n","type":"quantitative","scale":{"domain":[0,4.5],"range":[585.7,529.9],"nice":false,"zero":false}},"y2":{"datum":0}}}
]},

{"layer":[
{"data":{"values":[{"b":16,"n":7},{"b":17,"n":9},{"b":18,"n":7},{"b":19,"n":5}]},
"transform":[{"calculate":"datum.b+1","as":"e"}],"mark":{"type":"bar","color":"#000","stroke":"#000","strokeWidth":0.6},
"encoding":{"x":{"field":"b","type":"quantitative","scale":{"domain":[0,36],"range":[6.5,215.3],"nice":false,"zero":false}},"x2":{"field":"e"},"y":{"field":"n","type":"quantitative","scale":{"domain":[0,10],"range":[861.7,788.7],"nice":false,"zero":false}},"y2":{"datum":0}}},
{"data":{"values":[{}]},"mark":"rule","encoding":{"x":{"datum":0.31,"type":"quantitative","scale":{"domain":[0,36],"range":[6.5,215.3],"nice":false,"zero":false}},"x2":{"datum":35.09},"y":{"datum":0,"type":"quantitative","scale":{"domain":[0,10],"range":[861.7,788.7],"nice":false,"zero":false}}}},
{"data":{"values":[{"s":"S=28"}]},"mark":"text","encoding":{"x":{"datum":28,"type":"quantitative","scale":{"domain":[0,36],"range":[6.5,215.3],"nice":false,"zero":false}},"y":{"datum":2.86,"type":"quantitative","scale":{"domain":[0,10],"range":[861.7,788.7],"nice":false,"zero":false}},"text":{"field":"s"}}}
]},

{"layer":[
{"data":{"values":[{"b":16,"n":3},{"b":17,"n":6},{"b":18,"n":2},{"b":19,"n":3}]},
"transform":[{"calculate":"datum.b+1","as":"e"}],"mark":{"type":"bar","fill":"#fff","stroke":"#000","strokeWidth":1},
"encoding":{"x":{"field":"b","type":"quantitative","scale":{"domain":[0,36],"range":[3.7,214.3],"nice":false,"zero":false}},"x2":{"field":"e"},"y":{"field":"n","type":"quantitative","scale":{"domain":[0,10],"range":[934,876],"nice":false,"zero":false}},"y2":{"datum":0}}},
{"data":{"values":[{}]},"mark":"rule","encoding":{"x":{"datum":0.51,"type":"quantitative","scale":{"domain":[0,36],"range":[3.7,214.3],"nice":false,"zero":false}},"x2":{"datum":35.1},"y":{"datum":0,"type":"quantitative","scale":{"domain":[0,10],"range":[934,876],"nice":false,"zero":false}}}},
{"data":{"values":[{"s":"S=12"}]},"mark":"text","encoding":{"x":{"datum":28.6,"type":"quantitative","scale":{"domain":[0,36],"range":[3.7,214.3],"nice":false,"zero":false}},"y":{"datum":5.3,"type":"quantitative","scale":{"domain":[0,10],"range":[934,876],"nice":false,"zero":false}},"text":{"field":"s"}}}
]},

{"layer":[
{"data":{"values":[{"b":16,"n":8},{"b":17,"n":8},{"b":18,"n":5},{"b":19,"n":6}]},
"transform":[{"calculate":"datum.b+1","as":"e"}],"mark":{"type":"bar","fill":"#999","stroke":"#000","strokeWidth":1},
"encoding":{"x":{"field":"b","type":"quantitative","scale":{"domain":[0,36],"range":[5.7,216.3],"nice":false,"zero":false}},"x2":{"field":"e"},"y":{"field":"n","type":"quantitative","scale":{"domain":[0,10],"range":[1017.7,945.7],"nice":false,"zero":false}},"y2":{"datum":0}}},
{"data":{"values":[{}]},"mark":"rule","encoding":{"x":{"datum":0.74,"type":"quantitative","scale":{"domain":[0,36],"range":[5.7,216.3],"nice":false,"zero":false}},"x2":{"datum":35.3},"y":{"datum":0,"type":"quantitative","scale":{"domain":[0,10],"range":[1017.7,945.7],"nice":false,"zero":false}}}},
{"data":{"values":[{"s":"S=27"}]},"mark":"text","encoding":{"x":{"datum":28.1,"type":"quantitative","scale":{"domain":[0,36],"range":[5.7,216.3],"nice":false,"zero":false}},"y":{"datum":5.0,"type":"quantitative","scale":{"domain":[0,10],"range":[1017.7,945.7],"nice":false,"zero":false}},"text":{"field":"s"}}}
]},

{"layer":[
{"data":{"values":[{"b":17,"n":5},{"b":18,"n":6},{"b":19,"n":5}]},
"transform":[{"calculate":"datum.b+1","as":"e"}],"mark":{"type":"bar","color":"#000","stroke":"#000","strokeWidth":0.6},
"encoding":{"x":{"field":"b","type":"quantitative","scale":{"domain":[0,37],"range":[3.6,209.7],"nice":false,"zero":false}},"x2":{"field":"e"},"y":{"field":"n","type":"quantitative","scale":{"domain":[0,10],"range":[1116.7,1045.7],"nice":false,"zero":false}},"y2":{"datum":0}}},
{"data":{"values":[{}]},"mark":"rule","encoding":{"x":{"datum":0.66,"type":"quantitative","scale":{"domain":[0,37],"range":[3.6,209.7],"nice":false,"zero":false}},"x2":{"datum":36.9},"y":{"datum":0,"type":"quantitative","scale":{"domain":[0,10],"range":[1116.7,1045.7],"nice":false,"zero":false}}}}
]},

{"layer":[
{"data":{"values":[{"b":14,"n":6},{"b":15,"n":8},{"b":16,"n":6},{"b":17,"n":4.5}]},
"transform":[{"calculate":"datum.b+1","as":"e"}],"mark":{"type":"bar","color":"#000","stroke":"#000","strokeWidth":0.6},
"encoding":{"x":{"field":"b","type":"quantitative","scale":{"domain":[-1,34],"range":[258,468],"nice":false,"zero":false}},"x2":{"field":"e"},"y":{"field":"n","type":"quantitative","scale":{"domain":[0,9],"range":[863,793.25],"nice":false,"zero":false}},"y2":{"datum":0}}},
{"data":{"values":[{}]},"mark":"rule","encoding":{"x":{"datum":-0.33,"type":"quantitative","scale":{"domain":[-1,34],"range":[258,468],"nice":false,"zero":false}},"x2":{"datum":33},"y":{"datum":0,"type":"quantitative","scale":{"domain":[0,9],"range":[863,793.25],"nice":false,"zero":false}}}}
]},

{"layer":[
{"data":{"values":[{"b":10,"n":3},{"b":11,"n":10},{"b":12,"n":8}]},
"transform":[{"calculate":"datum.b+1","as":"e"}],"mark":{"type":"bar","color":"#000","stroke":"#000","strokeWidth":0.6},
"encoding":{"x":{"field":"b","type":"quantitative","scale":{"domain":[0,22],"range":[564.3,694.1],"nice":false,"zero":false}},"x2":{"field":"e"},"y":{"field":"n","type":"quantitative","scale":{"domain":[0,11],"range":[777.7,675.7],"nice":false,"zero":false}},"y2":{"datum":0}}},
{"data":{"values":[{}]},"mark":"rule","encoding":{"x":{"datum":-0.17,"type":"quantitative","scale":{"domain":[0,22],"range":[564.3,694.1],"nice":false,"zero":false}},"x2":{"datum":21},"y":{"datum":0,"type":"quantitative","scale":{"domain":[0,11],"range":[777.7,675.7],"nice":false,"zero":false}}}},
{"data":{"values":[{"s":"S=31"}]},"mark":"text","encoding":{"x":{"datum":19.4,"type":"quantitative","scale":{"domain":[0,22],"range":[564.3,694.1],"nice":false,"zero":false}},"y":{"datum":2.77,"type":"quantitative","scale":{"domain":[0,11],"range":[777.7,675.7],"nice":false,"zero":false}},"text":{"field":"s"}}}
]},

{"layer":[
{"data":{"values":[{"b":11,"n":6},{"b":12,"n":4}]},
"transform":[{"calculate":"datum.b+1","as":"e"}],"mark":{"type":"bar","fill":"#fff","stroke":"#000","strokeWidth":1},
"encoding":{"x":{"field":"b","type":"quantitative","scale":{"domain":[0,23],"range":[566.2,692.7],"nice":false,"zero":false}},"x2":{"field":"e"},"y":{"field":"n","type":"quantitative","scale":{"domain":[0,7],"range":[841,772.4],"nice":false,"zero":false}},"y2":{"datum":0}}},
{"data":{"values":[{}]},"mark":"rule","encoding":{"x":{"datum":-0.09,"type":"quantitative","scale":{"domain":[0,23],"range":[566.2,692.7],"nice":false,"zero":false}},"x2":{"datum":22.5},"y":{"datum":0,"type":"quantitative","scale":{"domain":[0,7],"range":[841,772.4],"nice":false,"zero":false}}}},
{"data":{"values":[{"s":"S=15"}]},"mark":"text","encoding":{"x":{"datum":20.6,"type":"quantitative","scale":{"domain":[0,23],"range":[566.2,692.7],"nice":false,"zero":false}},"y":{"datum":2.22,"type":"quantitative","scale":{"domain":[0,7],"range":[841,772.4],"nice":false,"zero":false}},"text":{"field":"s"}}}
]},

{"layer":[
{"data":{"values":[{"b":10,"n":2},{"b":11,"n":15},{"b":12,"n":14}]},
"transform":[{"calculate":"datum.b+1","as":"e"}],"mark":{"type":"bar","fill":"#999","stroke":"#000","strokeWidth":1},
"encoding":{"x":{"field":"b","type":"quantitative","scale":{"domain":[0,22],"range":[563,692.14],"nice":false,"zero":false}},"x2":{"field":"e"},"y":{"field":"n","type":"quantitative","scale":{"domain":[0,16],"range":[933.3,842.1],"nice":false,"zero":false}},"y2":{"datum":0}}},
{"data":{"values":[{}]},"mark":"rule","encoding":{"x":{"datum":0.05,"type":"quantitative","scale":{"domain":[0,22],"range":[563,692.14],"nice":false,"zero":false}},"x2":{"datum":21.3},"y":{"datum":0,"type":"quantitative","scale":{"domain":[0,16],"range":[933.3,842.1],"nice":false,"zero":false}}}},
{"data":{"values":[{"s":"S=29"}]},"mark":"text","encoding":{"x":{"datum":20,"type":"quantitative","scale":{"domain":[0,22],"range":[563,692.14],"nice":false,"zero":false}},"y":{"datum":7.1,"type":"quantitative","scale":{"domain":[0,16],"range":[933.3,842.1],"nice":false,"zero":false}},"text":{"field":"s"}}}
]},

{"layer":[
{"data":{"values":[{"b":14,"n":1},{"b":15,"n":1},{"b":16,"n":7},{"b":17,"n":6},{"b":18,"n":3},{"b":19,"n":4},{"b":20,"n":7},{"b":21,"n":4},{"b":22,"n":7},{"b":23,"n":6},{"b":24,"n":5},{"b":25,"n":3}]},
"transform":[{"calculate":"datum.b+1","as":"e"}],"mark":{"type":"bar","color":"#000","stroke":"#000","strokeWidth":0.6},
"encoding":{"x":{"field":"b","type":"quantitative","scale":{"domain":[0,44],"range":[618.2,891],"nice":false,"zero":false}},"x2":{"field":"e"},"y":{"field":"n","type":"quantitative","scale":{"domain":[0,8],"range":[1008.3,830.7],"nice":false,"zero":false}},"y2":{"datum":0}}},
{"data":{"values":[{}]},"mark":"rule","encoding":{"x":{"datum":0.18,"type":"quantitative","scale":{"domain":[0,44],"range":[618.2,891],"nice":false,"zero":false}},"x2":{"datum":43.3},"y":{"datum":0,"type":"quantitative","scale":{"domain":[0,8],"range":[1008.3,830.7],"nice":false,"zero":false}}}}
]},

{"layer":[
{"data":{"values":[{"b":2,"n":15},{"b":3,"n":16},{"b":4,"n":23},{"b":5,"n":20},{"b":6,"n":16},{"b":7,"n":16},{"b":8,"n":17},{"b":9,"n":20},{"b":10,"n":22},{"b":11,"n":26},{"b":12,"n":25},{"b":13,"n":20},{"b":14,"n":20},{"b":15,"n":18},{"b":16,"n":11}]},
"transform":[{"calculate":"datum.b+1","as":"e"}],"mark":{"type":"bar","color":"#000","stroke":"#000","strokeWidth":0.6},
"encoding":{"x":{"field":"b","type":"quantitative","scale":{"domain":[0,51],"range":[614.9,897.95],"nice":false,"zero":false}},"x2":{"field":"e"},"y":{"field":"n","type":"quantitative","scale":{"domain":[0,27],"range":[1196.7,1005],"nice":false,"zero":false}},"y2":{"datum":0}}},
{"data":{"values":[{}]},"mark":"rule","encoding":{"x":{"datum":0.61,"type":"quantitative","scale":{"domain":[0,51],"range":[614.9,897.95],"nice":false,"zero":false}},"x2":{"datum":50.5},"y":{"datum":0,"type":"quantitative","scale":{"domain":[0,27],"range":[1196.7,1005],"nice":false,"zero":false}}}},
{"data":{"values":[{"s":"S=285"}]},"mark":"text","encoding":{"x":{"datum":22.45,"type":"quantitative","scale":{"domain":[0,51],"range":[614.9,897.95],"nice":false,"zero":false}},"y":{"datum":18.9,"type":"quantitative","scale":{"domain":[0,27],"range":[1196.7,1005],"nice":false,"zero":false}},"text":{"field":"s"}}}
]},

{"layer":[
{"data":{"values":[{"b":28,"n":3},{"b":29,"n":12},{"b":30,"n":15},{"b":31,"n":15},{"b":32,"n":9},{"b":33,"n":9},{"b":34,"n":12},{"b":35,"n":15},{"b":36,"n":18},{"b":37,"n":18},{"b":38,"n":24},{"b":39,"n":18},{"b":40,"n":15},{"b":41,"n":12},{"b":42,"n":3}]},
"transform":[{"calculate":"datum.b+1","as":"e"}],"mark":{"type":"bar","fill":"#fff","stroke":"#000","strokeWidth":1},
"encoding":{"x":{"field":"b","type":"quantitative","scale":{"domain":[0,51],"range":[617.6,901.16],"nice":false,"zero":false}},"x2":{"field":"e"},"y":{"field":"n","type":"quantitative","scale":{"domain":[0,27],"range":[1196.7,1005],"nice":false,"zero":false}},"y2":{"datum":0}}},
{"data":{"values":[{"s":"S=198"}]},"mark":"text","encoding":{"x":{"datum":45.9,"type":"quantitative","scale":{"domain":[0,51],"range":[617.6,901.16],"nice":false,"zero":false}},"y":{"datum":19.25,"type":"quantitative","scale":{"domain":[0,27],"range":[1196.7,1005],"nice":false,"zero":false}},"text":{"field":"s"}}}
]},

{"layer":[
{"data":{"values":[{"b":15,"n":10},{"b":16,"n":18},{"b":17,"n":15},{"b":18,"n":15},{"b":19,"n":21},{"b":20,"n":15},{"b":21,"n":15},{"b":22,"n":15},{"b":23,"n":18},{"b":24,"n":27},{"b":25,"n":24},{"b":26,"n":24},{"b":27,"n":15},{"b":28,"n":21},{"b":29,"n":15}]},
"transform":[{"calculate":"datum.b+1","as":"e"}],"mark":{"type":"bar","fill":"#999","stroke":"#000","strokeWidth":1},
"encoding":{"x":{"field":"b","type":"quantitative","scale":{"domain":[0,50],"range":[618.9,896.9],"nice":false,"zero":false}},"x2":{"field":"e"},"y":{"field":"n","type":"quantitative","scale":{"domain":[0,28],"range":[1395,1193.4],"nice":false,"zero":false}},"y2":{"datum":0}}},
{"data":{"values":[{}]},"mark":"rule","encoding":{"x":{"datum":-0.16,"type":"quantitative","scale":{"domain":[0,50],"range":[618.9,896.9],"nice":false,"zero":false}},"x2":{"datum":49.7},"y":{"datum":0,"type":"quantitative","scale":{"domain":[0,28],"range":[1395,1193.4],"nice":false,"zero":false}}}},
{"data":{"values":[{"s":"S=268"}]},"mark":"text","encoding":{"x":{"datum":38.3,"type":"quantitative","scale":{"domain":[0,50],"range":[618.9,896.9],"nice":false,"zero":false}},"y":{"datum":18.2,"type":"quantitative","scale":{"domain":[0,28],"range":[1395,1193.4],"nice":false,"zero":false}},"text":{"field":"s"}}}
]},

{"layer":[
{"data":{"values":[{"b":17,"n":7},{"b":18,"n":6}]},
"transform":[{"calculate":"datum.b+1","as":"e"}],"mark":{"type":"bar","color":"#000","stroke":"#000","strokeWidth":0.6},
"encoding":{"x":{"field":"b","type":"quantitative","scale":{"domain":[-1,33],"range":[80.9,278.1],"nice":false,"zero":false}},"x2":{"field":"e"},"y":{"field":"n","type":"quantitative","scale":{"domain":[0,10],"range":[1240,1164],"nice":false,"zero":false}},"y2":{"datum":0}}},
{"data":{"values":[{}]},"mark":"rule","encoding":{"x":{"datum":-0.59,"type":"quantitative","scale":{"domain":[-1,33],"range":[80.9,278.1],"nice":false,"zero":false}},"x2":{"datum":32.5},"y":{"datum":0,"type":"quantitative","scale":{"domain":[0,10],"range":[1240,1164],"nice":false,"zero":false}}}},
{"data":{"values":[{"s":"S=15"}]},"mark":"text","encoding":{"x":{"datum":27.7,"type":"quantitative","scale":{"domain":[-1,33],"range":[80.9,278.1],"nice":false,"zero":false}},"y":{"datum":2.4,"type":"quantitative","scale":{"domain":[0,10],"range":[1240,1164],"nice":false,"zero":false}},"text":{"field":"s"}}}
]},

{"layer":[
{"data":{"values":[{"b":17,"n":3},{"b":18,"n":3}]},
"transform":[{"calculate":"datum.b+1","as":"e"}],"mark":{"type":"bar","fill":"#fff","stroke":"#000","strokeWidth":1},
"encoding":{"x":{"field":"b","type":"quantitative","scale":{"domain":[-1,33],"range":[82.7,276.5],"nice":false,"zero":false}},"x2":{"field":"e"},"y":{"field":"n","type":"quantitative","scale":{"domain":[0,10],"range":[1315,1248],"nice":false,"zero":false}},"y2":{"datum":0}}},
{"data":{"values":[{}]},"mark":"rule","encoding":{"x":{"datum":-0.89,"type":"quantitative","scale":{"domain":[-1,33],"range":[82.7,276.5],"nice":false,"zero":false}},"x2":{"datum":32.7},"y":{"datum":0,"type":"quantitative","scale":{"domain":[0,10],"range":[1315,1248],"nice":false,"zero":false}}}},
{"data":{"values":[{"s":"S=9"}]},"mark":"text","encoding":{"x":{"datum":26.7,"type":"quantitative","scale":{"domain":[-1,33],"range":[82.7,276.5],"nice":false,"zero":false}},"y":{"datum":3.2,"type":"quantitative","scale":{"domain":[0,10],"range":[1315,1248],"nice":false,"zero":false}},"text":{"field":"s"}}}
]},

{"layer":[
{"data":{"values":[{"b":17,"n":6},{"b":18,"n":7}]},
"transform":[{"calculate":"datum.b+1","as":"e"}],"mark":{"type":"bar","fill":"#999","stroke":"#000","strokeWidth":1},
"encoding":{"x":{"field":"b","type":"quantitative","scale":{"domain":[-1,33],"range":[80.9,278.1],"nice":false,"zero":false}},"x2":{"field":"e"},"y":{"field":"n","type":"quantitative","scale":{"domain":[0,10],"range":[1395,1330],"nice":false,"zero":false}},"y2":{"datum":0}}},
{"data":{"values":[{}]},"mark":"rule","encoding":{"x":{"datum":-0.12,"type":"quantitative","scale":{"domain":[-1,33],"range":[80.9,278.1],"nice":false,"zero":false}},"x2":{"datum":32.9},"y":{"datum":0,"type":"quantitative","scale":{"domain":[0,10],"range":[1395,1330],"nice":false,"zero":false}}}},
{"data":{"values":[{"s":"S=13"}]},"mark":"text","encoding":{"x":{"datum":27.6,"type":"quantitative","scale":{"domain":[-1,33],"range":[80.9,278.1],"nice":false,"zero":false}},"y":{"datum":5.3,"type":"quantitative","scale":{"domain":[0,10],"range":[1395,1330],"nice":false,"zero":false}},"text":{"field":"s"}}}
]},

{"layer":[
{"data":{"values":[{"b":7,"n":6},{"b":8,"n":8},{"b":9,"n":10},{"b":10,"n":9},{"b":11,"n":10},{"b":12,"n":8},{"b":13,"n":10},{"b":14,"n":12},{"b":15,"n":16},{"b":16,"n":14},{"b":17,"n":12},{"b":18,"n":8}]},
"transform":[{"calculate":"datum.b+1","as":"e"}],"mark":{"type":"bar","color":"#000","stroke":"#000","strokeWidth":0.6},
"encoding":{"x":{"field":"b","type":"quantitative","scale":{"domain":[-1,28],"range":[382.07,585.94],"nice":false,"zero":false}},"x2":{"field":"e"},"y":{"field":"n","type":"quantitative","scale":{"domain":[0,17],"range":[1396,1209],"nice":false,"zero":false}},"y2":{"datum":0}}},
{"data":{"values":[{}]},"mark":"rule","encoding":{"x":{"datum":-0.34,"type":"quantitative","scale":{"domain":[-1,28],"range":[382.07,585.94],"nice":false,"zero":false}},"x2":{"datum":27.15},"y":{"datum":0,"type":"quantitative","scale":{"domain":[0,17],"range":[1396,1209],"nice":false,"zero":false}}}}
]}
]
}
